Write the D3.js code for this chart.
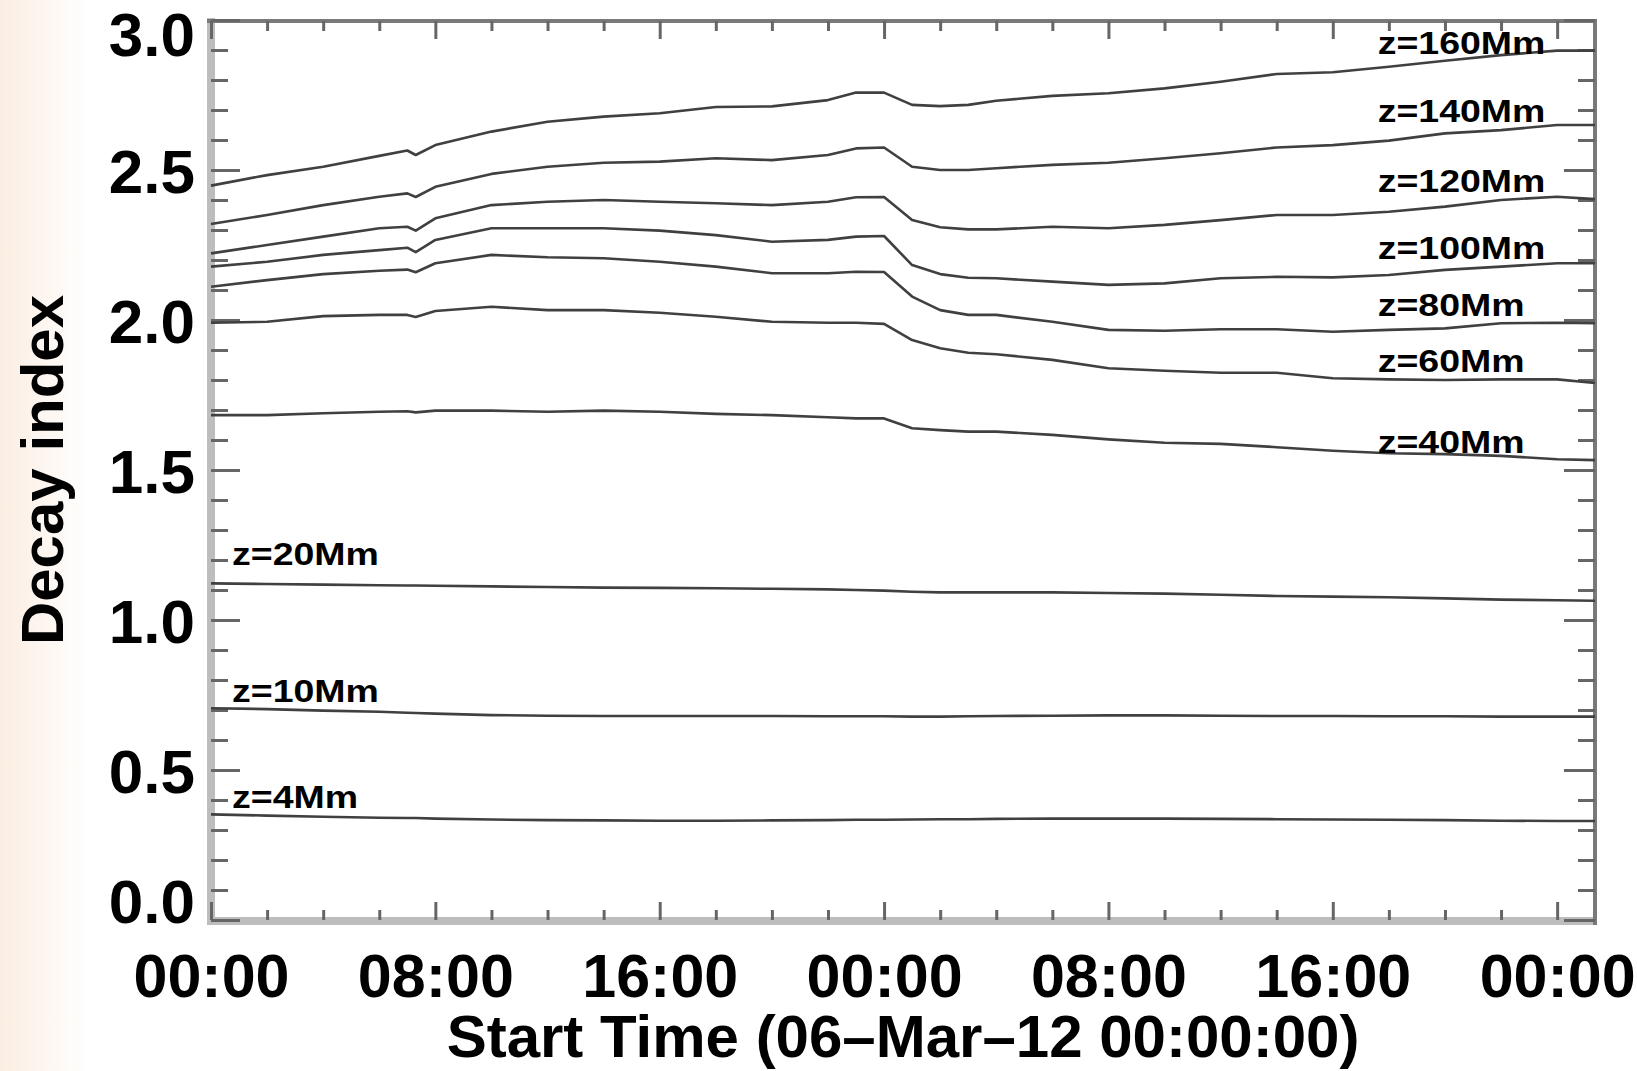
<!DOCTYPE html>
<html>
<head>
<meta charset="utf-8">
<script src="https://cdn.jsdelivr.net/npm/d3@7"></script>
<style>
  body { margin: 0; background: #fff; }
  svg text { font-family: "Liberation Sans", Arial, sans-serif; font-weight: bold; fill: #000; }
</style>
</head>
<body>
<div id="container"></div>
<script>
var width = 1637,
    height = 1071;

// hours since 06-Mar-12 00:00
var times = [0, 2, 4, 6, 7, 7.3, 8, 10, 12, 14, 16, 18, 20, 22, 23, 24, 25, 26, 27, 28, 30, 32, 34, 36, 38, 40, 42, 44, 46, 48, 49.35];

var names = ["z=160Mm", "z=140Mm", "z=120Mm", "z=100Mm", "z=80Mm", "z=60Mm", "z=40Mm", "z=20Mm", "z=10Mm", "z=4Mm"];

var z160 = [2.448, 2.483, 2.511, 2.547, 2.565, 2.550, 2.583, 2.628, 2.661, 2.678, 2.689, 2.710, 2.712, 2.733, 2.758, 2.758, 2.717, 2.713, 2.717, 2.731, 2.747, 2.756, 2.772, 2.794, 2.820, 2.826, 2.844, 2.864, 2.883, 2.898, 2.898];
var z140 = [2.320, 2.350, 2.383, 2.411, 2.422, 2.410, 2.444, 2.487, 2.511, 2.524, 2.528, 2.539, 2.533, 2.550, 2.572, 2.575, 2.511, 2.500, 2.500, 2.506, 2.517, 2.524, 2.539, 2.556, 2.575, 2.583, 2.598, 2.622, 2.633, 2.650, 2.650];
var z120 = [2.222, 2.250, 2.278, 2.306, 2.311, 2.298, 2.339, 2.383, 2.394, 2.400, 2.394, 2.389, 2.383, 2.394, 2.409, 2.410, 2.333, 2.309, 2.302, 2.302, 2.311, 2.306, 2.317, 2.333, 2.350, 2.350, 2.361, 2.378, 2.400, 2.411, 2.403];
var z100 = [2.178, 2.194, 2.217, 2.233, 2.241, 2.226, 2.267, 2.306, 2.306, 2.306, 2.298, 2.283, 2.261, 2.267, 2.278, 2.280, 2.183, 2.153, 2.141, 2.139, 2.128, 2.117, 2.122, 2.139, 2.144, 2.142, 2.150, 2.167, 2.178, 2.189, 2.189];
var z80  = [2.111, 2.133, 2.153, 2.164, 2.168, 2.159, 2.189, 2.217, 2.209, 2.206, 2.194, 2.178, 2.156, 2.156, 2.161, 2.160, 2.078, 2.033, 2.017, 2.017, 1.994, 1.967, 1.964, 1.969, 1.969, 1.961, 1.967, 1.972, 1.989, 1.991, 1.989];
var z60  = [1.991, 1.994, 2.013, 2.017, 2.017, 2.010, 2.030, 2.044, 2.033, 2.033, 2.024, 2.011, 1.994, 1.991, 1.991, 1.987, 1.933, 1.906, 1.891, 1.886, 1.867, 1.839, 1.831, 1.824, 1.824, 1.806, 1.802, 1.800, 1.802, 1.802, 1.790];
var z40  = [1.683, 1.683, 1.689, 1.694, 1.696, 1.692, 1.698, 1.698, 1.694, 1.698, 1.694, 1.687, 1.683, 1.676, 1.672, 1.672, 1.639, 1.633, 1.628, 1.628, 1.617, 1.602, 1.591, 1.587, 1.576, 1.564, 1.556, 1.553, 1.547, 1.536, 1.533];
var z20  = [1.122, 1.120, 1.118, 1.116, 1.115, 1.115, 1.114, 1.112, 1.110, 1.108, 1.107, 1.106, 1.104, 1.102, 1.100, 1.098, 1.094, 1.092, 1.092, 1.092, 1.092, 1.090, 1.088, 1.084, 1.080, 1.078, 1.076, 1.072, 1.068, 1.066, 1.064];
var z10  = [0.706, 0.703, 0.698, 0.694, 0.691, 0.690, 0.688, 0.683, 0.681, 0.680, 0.680, 0.680, 0.680, 0.679, 0.679, 0.679, 0.678, 0.678, 0.679, 0.680, 0.681, 0.682, 0.682, 0.681, 0.680, 0.680, 0.679, 0.679, 0.678, 0.678, 0.678];
var z4   = [0.352, 0.348, 0.344, 0.341, 0.340, 0.340, 0.338, 0.335, 0.333, 0.332, 0.331, 0.331, 0.332, 0.333, 0.334, 0.334, 0.335, 0.336, 0.336, 0.337, 0.338, 0.338, 0.338, 0.337, 0.336, 0.335, 0.334, 0.333, 0.331, 0.330, 0.330];

var series = [z160, z140, z120, z100, z80, z60, z40, z20, z10, z4];

// where each label sits (hours, decay index)
var labelTime  = [41.6, 41.6, 41.6, 41.6, 41.6, 41.6, 41.6, 0.75, 0.75, 0.75];
var labelValue = [2.887, 2.661, 2.428, 2.202, 2.013, 1.826, 1.556, 1.183, 0.728, 0.372];

var majorHours = [0, 8, 16, 24, 32, 40, 48];
var minorHours = [2, 4, 6, 10, 12, 14, 18, 20, 22, 26, 28, 30, 34, 36, 38, 42, 44, 46];
var majorY = [0, 0.5, 1.0, 1.5, 2.0, 2.5, 3.0];
var minorY = d3.range(0, 31).map(function(i){ return i / 10; }).filter(function(v){ return Math.round(v * 10) % 5 != 0; });

var svg = d3.select("#container")
            .append("svg")
            .attr("width", width)
            .attr("height", height);

// faint peach strip on the left edge
var grad = svg.append("defs").append("linearGradient")
    .attr("id", "edge")
    .attr("x1", "0%").attr("x2", "100%");
grad.append("stop").attr("offset", "0%").attr("stop-color", "#fbede2");
grad.append("stop").attr("offset", "100%").attr("stop-color", "#ffffff");
svg.append("rect").attr("width", 90).attr("height", height).style("fill", "url(#edge)");

var x = d3.scaleLinear().domain([0, 49.35]).range([211, 1595]);
var y = d3.scaleLinear().domain([0, 3]).range([920, 20]);

// frame
svg.append("line").attr("x1", 211).attr("x2", 211).attr("y1", 18).attr("y2", 925)
   .style("stroke", "#bdbdbd").style("stroke-width", 8);
svg.append("line").attr("x1", 207).attr("x2", 1597).attr("y1", 921).attr("y2", 921)
   .style("stroke", "#bdbdbd").style("stroke-width", 8);
svg.append("line").attr("x1", 207).attr("x2", 1597).attr("y1", 21).attr("y2", 21)
   .style("stroke", "#7a7a7a").style("stroke-width", 4);
svg.append("line").attr("x1", 1595).attr("x2", 1595).attr("y1", 19).attr("y2", 925)
   .style("stroke", "#7a7a7a").style("stroke-width", 4);

function tickAxis(axis, tx, ty) {
  var g = svg.append("g")
     .attr("transform", "translate(" + tx + "," + ty + ")")
     .call(axis.tickSizeOuter(0));
  g.select(".domain").remove();
  g.selectAll(".tick line").style("stroke", "#666").style("stroke-width", 3);
  return g;
}

// x ticks, bottom and top, pointing inward
tickAxis(d3.axisBottom(x).tickValues(majorHours).tickSize(-18).tickFormat(""), 0, 920);
tickAxis(d3.axisBottom(x).tickValues(minorHours).tickSize(-10).tickFormat(""), 0, 920);
tickAxis(d3.axisTop(x).tickValues(majorHours).tickSize(-18).tickFormat(""), 0, 21);
tickAxis(d3.axisTop(x).tickValues(minorHours).tickSize(-10).tickFormat(""), 0, 21);

// y ticks, left and right
tickAxis(d3.axisLeft(y).tickValues(majorY).tickSize(-29).tickFormat(""), 211, 0);
tickAxis(d3.axisLeft(y).tickValues(minorY).tickSize(-17).tickFormat(""), 211, 0);
tickAxis(d3.axisRight(y).tickValues(majorY).tickSize(-31).tickFormat(""), 1595, 0);
tickAxis(d3.axisRight(y).tickValues(minorY).tickSize(-17).tickFormat(""), 1595, 0);

// tick labels
var xl = svg.append("g")
  .attr("transform", "translate(0,920)")
  .call(d3.axisBottom(x).tickValues(majorHours).tickSize(0).tickPadding(34)
    .tickFormat(function(h){ return d3.format("02")(h % 24) + ":00"; }));
xl.select(".domain").remove();
xl.selectAll("text").style("font-size", "61px").style("font-family", null).attr("fill", "#000");

var yl = svg.append("g")
  .attr("transform", "translate(211,0)")
  .call(d3.axisLeft(y).tickValues(majorY).tickSize(0).tickPadding(16).tickFormat(d3.format(".1f")));
yl.select(".domain").remove();
yl.selectAll("text").style("font-size", "62px").style("font-family", null).attr("fill", "#000").attr("dy", "0.36em");
yl.selectAll(".tick").filter(function(d){ return d == 3; }).select("text").attr("y", 13);
yl.selectAll(".tick").filter(function(d){ return d == 0; }).select("text").attr("y", -20);

// axis titles
svg.append("text")
   .attr("x", 903).attr("y", 1057)
   .attr("text-anchor", "middle")
   .style("font-size", "60px")
   .text("Start Time (06\u2013Mar\u201312 00:00:00)");

svg.append("text")
   .attr("transform", "translate(63,470) rotate(-90)")
   .attr("text-anchor", "middle")
   .style("font-size", "60px")
   .text("Decay index");

// the curves
var line = d3.line()
  .x(function(d, i){ return x(times[i]); })
  .y(function(d){ return y(d); });

svg.append("g").selectAll(".curve")
  .data(series)
  .enter().append("path")
  .attr("class", "curve")
  .attr("d", line)
  .style("fill", "none")
  .style("stroke", "#404040")
  .style("stroke-width", 2.6)
  .style("stroke-linejoin", "round");

// height labels
svg.append("g").selectAll(".zlab")
  .data(names)
  .enter().append("g")
  .attr("class", "zlab")
  .attr("transform", function(d, i){ return "translate(" + x(labelTime[i]) + "," + y(labelValue[i]) + ")"; })
  .append("text")
  .attr("transform", "scale(1.21,1)")
  .style("font-size", "31px")
  .text(function(d){ return d; });
</script>
</body>
</html>
